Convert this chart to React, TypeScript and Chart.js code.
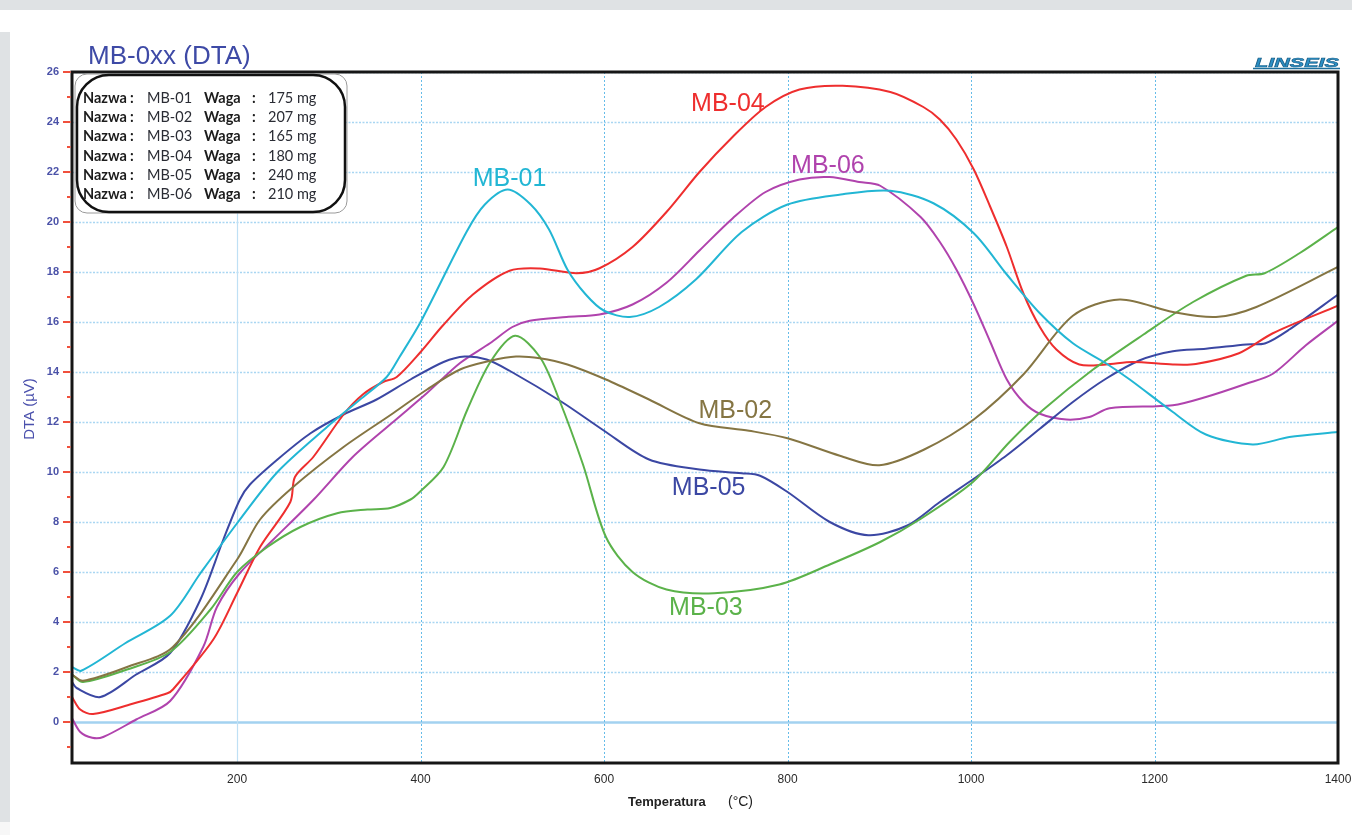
import React, { useEffect, useRef } from 'react';
import { Chart, registerables } from 'chart.js';

Chart.register(...registerables);

const seriesNames = ['MB-01', 'MB-02', 'MB-03', 'MB-04', 'MB-05', 'MB-06'];
const sampleWeights = ['175 mg', '207 mg', '165 mg', '180 mg', '240 mg', '210 mg'];
const seriesColors = ['#22b6d4', '#857543', '#5bb24a', '#ee2e2e', '#3b47a3', '#b043ad'];

const mb01X = [20, 30, 78, 127, 160, 201, 244, 298, 334, 363, 377, 400, 450, 470, 495, 520, 540, 560, 580, 600, 628, 660, 700, 750, 800, 858, 912, 959, 1003, 1039, 1075, 1111, 1147, 1173, 1220, 1256, 1307, 1347, 1400];
const mb01Y = [2.2, 2.05, 3.15, 4.25, 5.95, 8.0, 10.0, 11.8, 12.9, 13.8, 14.6, 16.0, 19.6, 20.7, 21.3, 20.7, 19.7, 18.1, 17.1, 16.45, 16.2, 16.6, 17.7, 19.6, 20.7, 21.1, 21.25, 20.75, 19.55, 17.9, 16.35, 15.15, 14.35, 13.7, 12.4, 11.5, 11.1, 11.4, 11.6];

const mb02X = [20, 32, 80, 130, 200, 225, 261, 316, 370, 407, 443, 476, 504, 530, 560, 602, 649, 704, 758, 800, 857, 900, 949, 1003, 1057, 1111, 1162, 1220, 1267, 1311, 1400];
const mb02Y = [1.9, 1.65, 2.2, 3.0, 6.5, 8.1, 9.4, 11.0, 12.35, 13.3, 14.1, 14.45, 14.62, 14.55, 14.3, 13.7, 12.9, 11.95, 11.65, 11.35, 10.65, 10.27, 10.9, 12.1, 13.9, 16.25, 16.9, 16.4, 16.2, 16.6, 18.2];

const mb03X = [20, 32, 80, 127, 171, 200, 233, 269, 309, 342, 367, 389, 399, 425, 451, 476, 503, 530, 551, 577, 602, 631, 668, 720, 791, 846, 901, 944, 1002, 1042, 1079, 1133, 1188, 1242, 1300, 1320, 1358, 1400];
const mb03Y = [1.9, 1.6, 2.1, 2.8, 4.5, 6.0, 7.0, 7.8, 8.35, 8.5, 8.56, 8.9, 9.2, 10.2, 12.5, 14.4, 15.45, 14.6, 12.9, 10.3, 7.4, 6.0, 5.3, 5.15, 5.5, 6.3, 7.2, 8.1, 9.6, 11.2, 12.5, 14.1, 15.5, 16.8, 17.85, 17.95, 18.75, 19.8];

const mb04X = [20, 29, 43, 85, 124, 130, 174, 200, 225, 258, 263, 283, 316, 337, 359, 374, 400, 424, 457, 497, 530, 570, 595, 631, 668, 704, 740, 776, 813, 860, 912, 948, 966, 984, 1003, 1021, 1039, 1057, 1075, 1093, 1118, 1147, 1176, 1220, 1245, 1292, 1329, 1400];
const mb04Y = [1.0, 0.5, 0.32, 0.72, 1.15, 1.3, 3.3, 5.16, 7.0, 8.8, 9.8, 10.6, 12.3, 13.1, 13.6, 13.8, 14.8, 15.85, 17.1, 18.05, 18.14, 17.95, 18.15, 19.0, 20.4, 22.0, 23.4, 24.6, 25.3, 25.45, 25.2, 24.6, 24.1, 23.3, 22.1, 20.6, 19.0, 17.15, 15.8, 14.9, 14.3, 14.3, 14.4, 14.3, 14.32, 14.75, 15.55, 16.65];

const mb05X = [20, 25, 51, 90, 127, 160, 185, 203, 214, 244, 280, 316, 352, 389, 425, 448, 472, 497, 554, 600, 649, 704, 750, 770, 800, 846, 888, 930, 966, 1003, 1039, 1075, 1111, 1147, 1184, 1220, 1256, 1300, 1321, 1347, 1400];
const mb05Y = [1.6, 1.36, 1.0, 1.9, 2.76, 4.9, 7.3, 8.9, 9.5, 10.5, 11.55, 12.3, 12.9, 13.7, 14.4, 14.62, 14.5, 14.05, 12.8, 11.65, 10.5, 10.1, 9.95, 9.85, 9.2, 8.0, 7.47, 7.85, 8.8, 9.73, 10.67, 11.73, 12.8, 13.73, 14.47, 14.83, 14.93, 15.1, 15.15, 15.7, 17.1];

const mb06X = [20, 29, 42, 54, 90, 127, 163, 178, 203, 239, 283, 326, 370, 407, 443, 476, 500, 519, 559, 595, 631, 668, 704, 740, 776, 813, 846, 878, 901, 945, 966, 984, 1003, 1021, 1039, 1057, 1075, 1104, 1129, 1151, 1220, 1256, 1300, 1329, 1365, 1400];
const mb06Y = [0.15, -0.4, -0.63, -0.6, 0.1, 0.84, 3.0, 4.6, 5.96, 7.28, 8.88, 10.6, 12.0, 13.16, 14.36, 15.16, 15.8, 16.05, 16.2, 16.3, 16.7, 17.57, 18.86, 20.14, 21.2, 21.7, 21.8, 21.6, 21.45, 20.2, 19.2, 18.1, 16.7, 15.2, 13.7, 12.8, 12.33, 12.1, 12.2, 12.55, 12.67, 13.0, 13.53, 13.93, 15.07, 16.05];

const seriesX = [mb01X, mb02X, mb03X, mb04X, mb05X, mb06X];
const seriesY = [mb01Y, mb02Y, mb03Y, mb04Y, mb05Y, mb06Y];

// in-chart curve label anchors (data units)
const curveLabelX = [497, 743, 711, 735, 714, 844];
const curveLabelY = [21.7, 12.45, 4.55, 24.7, 9.35, 22.25];

const xTickValues = [200, 400, 600, 800, 1000, 1200, 1400];
const yTickValues = [0, 2, 4, 6, 8, 10, 12, 14, 16, 18, 20, 22, 24, 26];
const yMinorTicks = [-1, 1, 3, 5, 7, 9, 11, 13, 15, 17, 19, 21, 23, 25];

const X_MIN = 20;
const X_MAX = 1400;
const Y_MIN = -1.64;
const Y_MAX = 26;

const decorPlugin = {
  id: 'decor',
  beforeDatasetsDraw(chart: any) {
    const { ctx, chartArea: a, scales } = chart;
    const x = scales.x;
    const y = scales.y;
    ctx.save();
    for (const v of yTickValues) {
      const py = Math.round(y.getPixelForValue(v)) + 0.5;
      ctx.beginPath();
      if (v === 0) {
        ctx.setLineDash([]);
        ctx.strokeStyle = '#a3d2f0';
        ctx.lineWidth = 2.5;
      } else {
        ctx.setLineDash([2, 1.5]);
        ctx.strokeStyle = '#a9d6f2';
        ctx.lineWidth = 1.6;
      }
      ctx.moveTo(a.left, py);
      ctx.lineTo(a.right, py);
      ctx.stroke();
    }
    for (const v of xTickValues) {
      if (v >= X_MAX) continue;
      const px = Math.round(x.getPixelForValue(v)) + 0.5;
      ctx.beginPath();
      if (v === 200) {
        ctx.setLineDash([]);
        ctx.strokeStyle = '#bfe0f5';
        ctx.lineWidth = 1.2;
      } else {
        ctx.setLineDash([2, 2]);
        ctx.strokeStyle = '#66bce9';
        ctx.lineWidth = 1;
      }
      ctx.moveTo(px, a.top);
      ctx.lineTo(px, a.bottom);
      ctx.stroke();
    }
    ctx.restore();
  },
  afterDatasetsDraw(chart: any) {
    const { ctx, chartArea: a, scales } = chart;
    const x = scales.x;
    const y = scales.y;
    ctx.save();
    ctx.setLineDash([]);

    ctx.font = '25px "Liberation Sans", Arial, sans-serif';
    ctx.textAlign = 'center';
    ctx.textBaseline = 'middle';
    seriesNames.forEach((n, i) => {
      ctx.fillStyle = seriesColors[i];
      ctx.fillText(n, x.getPixelForValue(curveLabelX[i]), y.getPixelForValue(curveLabelY[i]));
    });

    ctx.strokeStyle = '#161616';
    ctx.lineWidth = 3;
    ctx.strokeRect(a.left, a.top, a.right - a.left, a.bottom - a.top);

    ctx.strokeStyle = '#f0503c';
    ctx.lineWidth = 2;
    for (const v of yTickValues) {
      const py = Math.round(y.getPixelForValue(v));
      ctx.beginPath();
      ctx.moveTo(a.left - 9, py);
      ctx.lineTo(a.left - 1.5, py);
      ctx.stroke();
    }
    for (const v of yMinorTicks) {
      const py = Math.round(y.getPixelForValue(v));
      ctx.beginPath();
      ctx.moveTo(a.left - 5, py);
      ctx.lineTo(a.left - 1.5, py);
      ctx.stroke();
    }

    const bx = a.left + 4;
    const by = a.top + 2;
    const bw = 270;
    const bh = 139;
    ctx.fillStyle = '#ffffff';
    ctx.beginPath();
    ctx.roundRect(bx, by, bw, bh, 30);
    ctx.fill();
    ctx.strokeStyle = '#9a9a9a';
    ctx.lineWidth = 1;
    ctx.beginPath();
    ctx.roundRect(bx - 1, by, bw + 2, bh, 12);
    ctx.stroke();
    ctx.strokeStyle = '#111111';
    ctx.lineWidth = 2.5;
    ctx.beginPath();
    ctx.roundRect(bx + 1, by + 1, bw - 2, bh - 2, 32);
    ctx.stroke();

    ctx.textBaseline = 'middle';
    ctx.textAlign = 'left';
    seriesNames.forEach((n, i) => {
      const ty = by + 24 + i * 19.3;
      ctx.fillStyle = '#1c1c1c';
      ctx.font = 'bold 14.5px Lato, "Open Sans", sans-serif';
      ctx.fillText('Nazwa', bx + 7, ty);
      ctx.fillText(':', bx + 54, ty);
      ctx.fillText('Waga', bx + 128, ty);
      ctx.fillText(':', bx + 176, ty);
      ctx.font = '14.5px Lato, "Open Sans", sans-serif';
      ctx.fillStyle = '#2a2c34';
      ctx.fillText(n, bx + 71, ty);
      ctx.fillText(sampleWeights[i], bx + 192, ty);
    });

    ctx.fillStyle = '#3e4aa6';
    ctx.font = '26px "Liberation Sans", Arial, sans-serif';
    ctx.textAlign = 'left';
    ctx.textBaseline = 'alphabetic';
    ctx.fillText('MB-0xx (DTA)', 88, 64);

    ctx.font = 'italic bold 13px "Liberation Sans", Arial, sans-serif';
    const lw = ctx.measureText('LINSEIS').width;
    ctx.save();
    ctx.translate(1255, 67);
    ctx.scale(84 / lw, 1);
    ctx.fillStyle = '#2b90c6';
    ctx.strokeStyle = '#1b5e86';
    ctx.lineWidth = 0.6;
    ctx.fillText('LINSEIS', 0, 0);
    ctx.strokeText('LINSEIS', 0, 0);
    ctx.restore();
    ctx.strokeStyle = '#1f6f9c';
    ctx.lineWidth = 1.6;
    ctx.beginPath();
    ctx.moveTo(1253, 68.5);
    ctx.lineTo(1340, 68.5);
    ctx.stroke();

    ctx.fillStyle = '#222222';
    ctx.textBaseline = 'middle';
    ctx.font = 'bold 13px "Liberation Sans", Arial, sans-serif';
    ctx.fillText('Temperatura', 628, 802);
    ctx.font = '14px "Liberation Sans", Arial, sans-serif';
    ctx.fillText('(°C)', 728, 802);

    ctx.save();
    ctx.translate(30, 409);
    ctx.rotate(-Math.PI / 2);
    ctx.textAlign = 'center';
    ctx.fillStyle = '#4a50ac';
    ctx.font = '15px "Liberation Sans", Arial, sans-serif';
    ctx.fillText('DTA (µV)', 0, 0);
    ctx.restore();

    ctx.restore();
  },
};

export default function App() {
  const canvasRef = useRef<HTMLCanvasElement | null>(null);

  useEffect(() => {
    const canvas = canvasRef.current;
    if (!canvas) return;
    const datasets = seriesNames.map((n, i) => ({
      label: n,
      data: seriesX[i].map((xv, j) => ({ x: xv, y: seriesY[i][j] })),
      borderColor: seriesColors[i],
      backgroundColor: seriesColors[i],
      borderWidth: 2,
      pointRadius: 0,
      fill: false,
      tension: 0.3,
    }));
    const chart = new Chart(canvas, {
      type: 'line',
      data: { datasets },
      options: {
        animation: false,
        responsive: false,
        maintainAspectRatio: false,
        parsing: false as any,
        layout: { padding: { left: 10, top: 72, right: 14, bottom: 32 } },
        plugins: {
          legend: { display: false },
          tooltip: { enabled: false },
          title: { display: false },
        },
        scales: {
          x: {
            type: 'linear',
            min: X_MIN,
            max: X_MAX,
            afterBuildTicks: (s: any) => {
              s.ticks = xTickValues.map((v) => ({ value: v }));
            },
            afterFit: (s: any) => {
              s.height = 40;
              s.paddingLeft = 0;
              s.paddingRight = 0;
            },
            grid: { display: false, drawTicks: false },
            border: { display: false },
            ticks: {
              padding: 9,
              color: '#2a2a2a',
              maxRotation: 0,
              autoSkip: false,
              callback: (v: any) => String(v),
              font: { family: '"Liberation Sans", Arial, sans-serif', size: 12 },
            },
          },
          y: {
            type: 'linear',
            min: Y_MIN,
            max: Y_MAX,
            afterBuildTicks: (s: any) => {
              s.ticks = yTickValues.map((v) => ({ value: v }));
            },
            afterFit: (s: any) => {
              s.width = 62;
              s.paddingTop = 0;
              s.paddingBottom = 0;
            },
            grid: { display: false, drawTicks: false },
            border: { display: false },
            ticks: {
              padding: 13,
              color: '#4b52a8',
              autoSkip: false,
              callback: (v: any) => String(v),
              font: { family: '"Liberation Sans", Arial, sans-serif', size: 11, weight: 'bold' },
            },
          },
        },
      },
      plugins: [decorPlugin],
    });
    return () => chart.destroy();
  }, []);

  return (
    <div style={{ position: 'fixed', left: 0, top: 0, width: 1352, height: 835, background: '#dfe2e4', overflow: 'hidden' }}>
      <div style={{ position: 'absolute', left: 10, top: 10, right: 0, bottom: 0, background: '#ffffff' }} />
      <div style={{ position: 'absolute', left: 0, top: 10, width: 10, height: 22, background: '#ffffff' }} />
      <div style={{ position: 'absolute', left: 0, top: 822, width: 10, height: 13, background: '#f7f7f7' }} />
      <canvas ref={canvasRef} width={1352} height={835} style={{ position: 'absolute', left: 0, top: 0, width: 1352, height: 835, display: 'block' }} />
    </div>
  );
}
